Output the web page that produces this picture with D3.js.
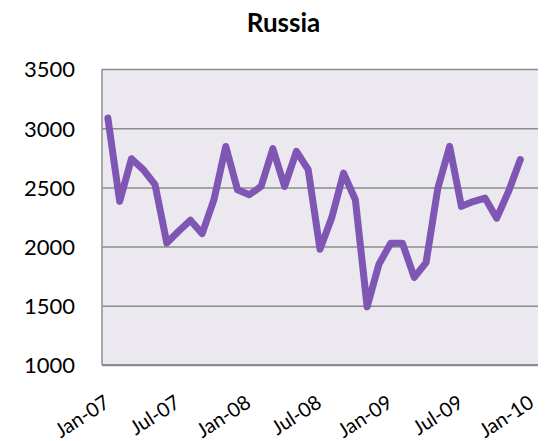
<!DOCTYPE html>
<html>
<head>
<meta charset="utf-8">
<script src="https://cdn.jsdelivr.net/npm/d3@7"></script>
<style>
  html, body { margin: 0; padding: 0; background: #fff; }
  svg text { font-family: Lato, "Open Sans", sans-serif; fill: #000; }
</style>
</head>
<body>
<svg id="chart" width="547" height="441"></svg>
<script>
(function () {
  "use strict";

  // monthly categories, Jan-07 .. Jan-10 (last one has no value)
  var months = [
    "Jan-07", "Feb-07", "Mar-07", "Apr-07", "May-07", "Jun-07",
    "Jul-07", "Aug-07", "Sep-07", "Oct-07", "Nov-07", "Dec-07",
    "Jan-08", "Feb-08", "Mar-08", "Apr-08", "May-08", "Jun-08",
    "Jul-08", "Aug-08", "Sep-08", "Oct-08", "Nov-08", "Dec-08",
    "Jan-09", "Feb-09", "Mar-09", "Apr-09", "May-09", "Jun-09",
    "Jul-09", "Aug-09", "Sep-09", "Oct-09", "Nov-09", "Dec-09",
    "Jan-10"
  ];
  var values = [
    3085, 2382, 2742, 2650, 2523, 2030,
    2130, 2223, 2110, 2396, 2846, 2480,
    2438, 2508, 2827, 2508, 2804, 2650,
    1978, 2245, 2621, 2396, 1492, 1851,
    2028, 2028, 1740, 1865, 2494, 2846,
    2340, 2380, 2410, 2240, 2466, 2735
  ];
  var tickLabels = ["Jan-07", "Jul-07", "Jan-08", "Jul-08", "Jan-09", "Jul-09", "Jan-10"];
  var yTicks = [1000, 1500, 2000, 2500, 3000, 3500];

  var margin = {top: 69, right: 9, bottom: 76, left: 102};
  var width = 547 - margin.left - margin.right,
      height = 441 - margin.top - margin.bottom;

  var svg = d3.select("#chart");

  svg.append("text")
      .attr("x", 283.5)
      .attr("y", 32)
      .style("text-anchor", "middle")
      .style("font-size", "26px")
      .style("font-weight", "bold")
      .text("Russia");

  var g = svg.append("g")
      .attr("transform", "translate(" + margin.left + "," + margin.top + ")");

  var x = d3.scaleBand().domain(months).range([0, width]).padding(0);
  var y = d3.scaleLinear().domain([1000, 3500]).range([height, 0]);

  g.append("rect")
      .attr("width", width)
      .attr("height", height)
      .attr("fill", "#ebe9ef");

  // gridlines
  g.append("g")
      .attr("class", "grid")
      .call(d3.axisLeft(y).tickValues(yTicks).tickSize(-width).tickFormat(""))
      .call(function (s) {
        s.select(".domain").remove();
        s.selectAll("line").attr("stroke", "#8c8c8c").attr("stroke-width", 1.5);
      });

  // y axis labels
  g.append("g")
      .call(d3.axisLeft(y).tickValues(yTicks).tickSize(0).tickPadding(27).tickFormat(d3.format("d")))
      .call(function (s) {
        s.select(".domain").remove();
        s.selectAll("text").style("font-size", "22px").attr("dy", "0.36em");
      });

  // left and bottom border
  g.append("line")
      .attr("x1", 0).attr("x2", 0).attr("y1", 0).attr("y2", height)
      .attr("stroke", "#8c8c8c").attr("stroke-width", 1.5);
  g.append("line")
      .attr("x1", 0).attr("x2", width).attr("y1", height).attr("y2", height)
      .attr("stroke", "#8c8c8c").attr("stroke-width", 2);

  // x axis labels (rotated)
  var xAxis = g.append("g")
      .attr("transform", "translate(0," + height + ")")
      .call(d3.axisBottom(x).tickValues(tickLabels).tickSize(0));
  xAxis.select(".domain").remove();
  xAxis.selectAll("text")
      .style("font-size", "20px")
      .style("text-anchor", "end")
      .attr("y", 0)
      .attr("dy", 0)
      .attr("transform", "translate(3,41) rotate(-33)");

  var line = d3.line()
      .x(function (d, i) { return x(months[i]) + x.bandwidth() / 2; })
      .y(function (d) { return y(d); });

  g.append("path")
      .datum(values)
      .attr("fill", "none")
      .attr("stroke", "#7f56b3")
      .attr("stroke-width", 7)
      .attr("stroke-linejoin", "round")
      .attr("stroke-linecap", "round")
      .attr("d", line);
}());
</script>
</body>
</html>
